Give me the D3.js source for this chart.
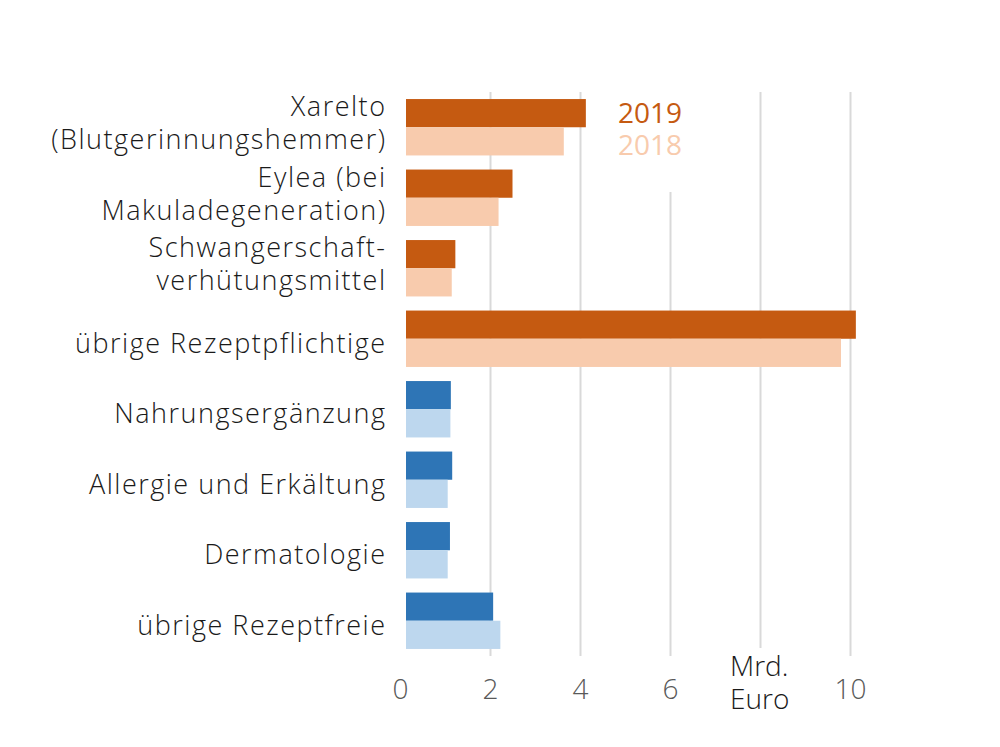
<!DOCTYPE html>
<html>
<head>
<meta charset="utf-8">
<title>Arzneimittel Umsatz 2018/2019</title>
<script src="https://d3js.org/d3.v7.min.js"></script>
<style>
  body { margin: 0; background: #fff; }
  svg text { font-family: "Open Sans", "Noto Sans", sans-serif; font-weight: 300; }
</style>
</head>
<body>
<div id="chart"></div>
<script>
// categories (each a list of label lines)
var categories = [
  ["Xarelto", "(Blutgerinnungshemmer)"],
  ["Eylea (bei", "Makuladegeneration)"],
  ["Schwangerschaft-", "verhütungsmittel"],
  ["übrige Rezeptpflichtige"],
  ["Nahrungsergänzung"],
  ["Allergie und Erkältung"],
  ["Dermatologie"],
  ["übrige Rezeptfreie"]
];
// Rx = rezeptpflichtig (orange), OTC = rezeptfrei (blue)
var kinds = ["rx", "rx", "rx", "rx", "otc", "otc", "otc", "otc"];
var values2019 = [4.13, 2.50, 1.23, 10.13, 1.13, 1.16, 1.11, 2.07];
var values2018 = [3.64, 2.19, 1.15, 9.80, 1.12, 1.06, 1.06, 2.23];
var ticks = [0, 2, 4, 6, 8, 10];
var legendYears = ["2019", "2018"];

var colors = {
  rx:  {"2019": "#c55a11", "2018": "#f8cbad"},
  otc: {"2019": "#2e75b6", "2018": "#bdd7ee"}
};

var width = 1000, height = 747;
var svg = d3.select("#chart").append("svg")
    .attr("width", width)
    .attr("height", height);

var x = d3.scaleLinear().domain([0, 10]).range([400, 850]);
var y = d3.scaleBand()
    .domain(d3.range(categories.length))
    .range([92, 656])
    .paddingInner(0.2)
    .paddingOuter(0.1);

var gridTop = 92, gridBottom = 656;

// gridlines + tick labels
var axis = svg.append("g")
    .attr("transform", "translate(0," + gridBottom + ")")
    .call(d3.axisBottom(x)
      .tickValues(ticks)
      .tickSize(-(gridBottom - gridTop))
      .tickPadding(23)
      .tickFormat(function(d) { return d === 8 ? "" : d; }));

axis.select(".domain").remove();
axis.selectAll(".tick line")
    .attr("stroke", "#d9d9d9")
    .attr("stroke-width", 2)
    .attr("y1", function(d) { return d === 8 ? -8 : 0; })
    .attr("y2", function(d) { return d === 6 ? -(gridBottom - 192) : -(gridBottom - gridTop); })
    .style("display", function(d) { return d === 0 ? "none" : null; });
axis.selectAll(".tick text")
    .attr("fill", "#595959")
    .style("font-size", "28px");

// unit label in place of the 8 tick
var unit = svg.append("text")
    .attr("x", x(8) - 30)
    .attr("fill", "#1a1a1a")
    .style("font-size", "28px");
unit.append("tspan").attr("x", x(8) - 30).attr("y", 676).text("Mrd.");
unit.append("tspan").attr("x", x(8) - 30).attr("y", 709).text("Euro");

// bars
var barOffset = 6;
var half = y.bandwidth() / 2;
var groups = svg.append("g").selectAll("g")
    .data(categories)
    .join("g")
    .attr("transform", function(d, i) { return "translate(0," + y(i) + ")"; });

groups.append("rect")
    .attr("x", x(0) + barOffset)
    .attr("y", 0)
    .attr("height", half)
    .attr("width", function(d, i) { return x(values2019[i]) - x(0) - barOffset; })
    .attr("fill", function(d, i) { return colors[kinds[i]]["2019"]; });

groups.append("rect")
    .attr("x", x(0) + barOffset)
    .attr("y", half)
    .attr("height", half)
    .attr("width", function(d, i) { return x(values2018[i]) - x(0) - barOffset; })
    .attr("fill", function(d, i) { return colors[kinds[i]]["2018"]; });

// category labels
groups.append("text")
    .attr("text-anchor", "end")
    .attr("fill", "#1a1a1a")
    .style("font-size", "27px")
    .style("letter-spacing", "1.5px")
    .each(function(d) {
      var t = d3.select(this);
      var offsets = d.length === 1 ? [half + 14] : [half - 11, half + 22];
      d.forEach(function(line, k) {
        t.append("tspan").attr("x", 386.5).attr("y", offsets[k]).text(line);
      });
    });

// legend
svg.append("g").selectAll("text")
    .data(legendYears)
    .join("text")
    .attr("x", 618)
    .attr("y", function(d, i) { return 123 + i * 32; })
    .attr("fill", function(d) { return colors.rx[d]; })
    .style("font-size", "28px")
    .style("font-weight", 400)
    .text(function(d) { return d; });
</script>
</body>
</html>
